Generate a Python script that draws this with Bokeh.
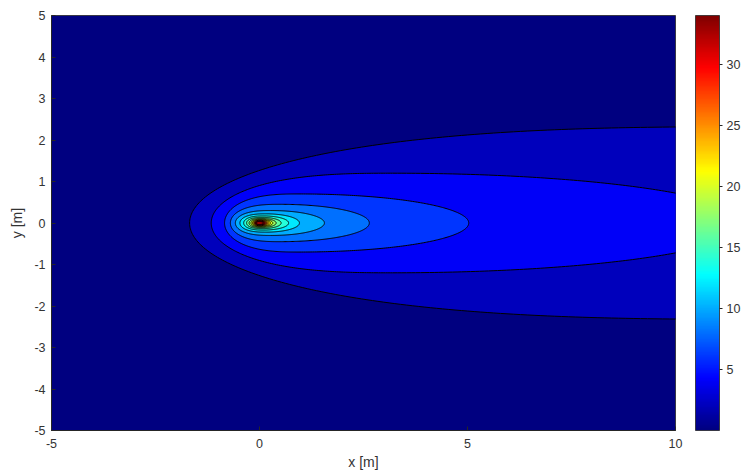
import numpy as np
from bokeh.plotting import figure
from bokeh.models import (ColorBar, LinearColorMapper, FixedTicker, ColumnDataSource, Range1d)
from bokeh.embed import file_html
from bokeh.resources import INLINE

# ---- data ----
# contour levels of the filled contour plot
levels = [2, 4, 6, 8, 10, 12, 14, 16, 18, 20, 22, 24, 26, 28, 30, 32]
# upstream edge of each contour on the axis y = 0  [m]
x_left = [-1.68, -1.16, -0.84, -0.70, -0.58, -0.47, -0.38, -0.31, -0.25, -0.205, -0.17, -0.14, -0.12, -0.10, -0.085, -0.07]
# x position where each contour is widest  [m]
x_widest = [12.0, 3.2, 0.95, 0.50, 0.28, 0.16, 0.10, 0.07, 0.05, 0.04, 0.03, 0.02, 0.015, 0.01, 0.005, 0.0]
# downstream edge of each contour on the axis y = 0  [m]
x_right = [22.0, 11.7, 5.03, 2.64, 1.56, 0.96, 0.70, 0.52, 0.40, 0.32, 0.26, 0.21, 0.17, 0.14, 0.115, 0.095]
# largest half width of each contour  [m]
half_width = [2.32, 1.20, 0.70, 0.45, 0.30, 0.22, 0.17, 0.135, 0.11, 0.09, 0.075, 0.063, 0.053, 0.045, 0.038, 0.032]

z_min, z_max = 0.0, 34.0
x_ticks = [-5, 0, 5, 10]
y_ticks = [-5, -4, -3, -2, -1, 0, 1, 2, 3, 4, 5]
cbar_ticks = [5, 10, 15, 20, 25, 30]


def jet(n):
    cols = []
    for i in range(n):
        f = i / (n - 1)
        r = min(max(1.5 - abs(4 * f - 3), 0.0), 1.0)
        g = min(max(1.5 - abs(4 * f - 2), 0.0), 1.0)
        b = min(max(1.5 - abs(4 * f - 1), 0.0), 1.0)
        cols.append("#%02x%02x%02x" % (round(r * 255), round(g * 255), round(b * 255)))
    return cols


palette = jet(256)
mapper = LinearColorMapper(palette=palette, low=z_min, high=z_max)

# closed outline of each level (egg shaped, blunt upstream nose)
xs, ys = [], []
phi = np.linspace(0, np.pi, 241)
t = np.cos(phi)
for xl, xm, xr, h in zip(x_left, x_widest, x_right, half_width):
    ax = np.where(t >= 0, xr - xm, xm - xl)
    k = np.where(t >= 0, 2.0, 2.7)
    xu = xm + t * ax
    yu = h * np.sqrt(np.clip(1 - np.abs(t) ** k, 0, 1))
    xs.append(np.concatenate([xu, xu[::-1][1:]]))
    ys.append(np.concatenate([yu, -yu[::-1][1:]]))

src = ColumnDataSource(dict(xs=xs, ys=ys, level=levels))

FONT = "Liberation Sans"
p = figure(frame_width=624, frame_height=415,
           x_range=Range1d(-5, 10), y_range=Range1d(-5, 5),
           output_backend="svg", toolbar_location=None,
           min_border_left=51, min_border_top=15, min_border_bottom=40,
           min_border_right=0)
p.background_fill_color = palette[0]
p.border_fill_color = "white"
p.outline_line_color = "#262626"
p.outline_line_width = 0.8
p.grid.visible = False

p.patches("xs", "ys", source=src,
          fill_color={"field": "level", "transform": mapper},
          line_color="black", line_width=1.0)

for ax_ in (p.xaxis[0], p.yaxis[0]):
    ax_.major_tick_in = 4
    ax_.major_tick_out = 0
    ax_.minor_tick_line_color = None
    ax_.axis_line_color = "#262626"
    ax_.major_tick_line_color = "#262626"
    ax_.major_label_text_font = FONT
    ax_.major_label_text_font_size = "12.5px"
    ax_.major_label_text_color = "#333333"
    ax_.axis_label_text_font = FONT
    ax_.axis_label_text_font_size = "14px"
    ax_.axis_label_text_font_style = "normal"
    ax_.axis_label_text_color = "#333333"
p.xaxis.ticker = FixedTicker(ticks=x_ticks)
p.yaxis.ticker = FixedTicker(ticks=y_ticks)
p.xaxis.major_label_overrides = {v: str(v) for v in x_ticks}
p.yaxis.major_label_overrides = {v: str(v) for v in y_ticks}
p.xaxis.axis_label = "x [m]"
p.yaxis.axis_label = "y [m]"
p.xaxis.major_label_standoff = 8
p.yaxis.major_label_standoff = 6
p.xaxis.axis_label_standoff = 3
p.yaxis.axis_label_standoff = 6

cb = ColorBar(color_mapper=mapper, ticker=FixedTicker(ticks=cbar_ticks),
              width=24, height=415, padding=0, margin=0,
              location=(20, 0),
              bar_line_color="#262626", bar_line_width=0.8,
              major_tick_line_color="#262626", major_tick_in=0, major_tick_out=3,
              minor_tick_line_color=None,
              major_label_text_font=FONT, major_label_text_font_size="12.5px",
              major_label_text_color="#333333", label_standoff=4,
              border_line_color=None, background_fill_color=None)
p.add_layout(cb, "right")

open("out.html", "w").write(file_html(p, INLINE))
